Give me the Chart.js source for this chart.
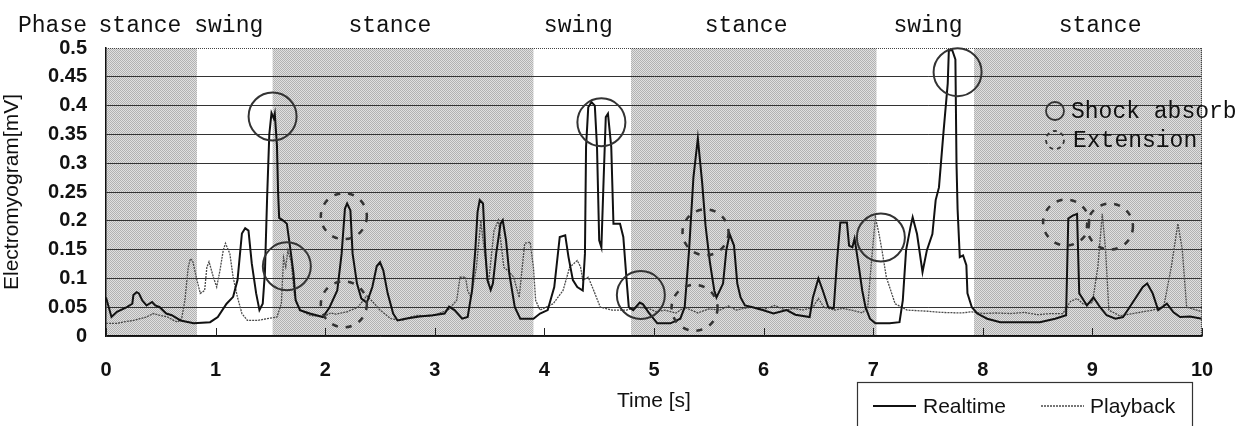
<!DOCTYPE html>
<html>
<head>
<meta charset="utf-8">
<script src="https://cdn.jsdelivr.net/npm/chart.js@4/dist/chart.umd.min.js"></script>
<style>
  html, body { margin: 0; padding: 0; background: #fff; }
  #wrap { width: 1259px; height: 426px; }
</style>
</head>
<body>
<div id="wrap"><canvas id="emgChart" width="1259" height="426"></canvas></div>
<script>
// time [s] and electromyogram [mV]
const realT = [0.00, 0.05, 0.10, 0.19, 0.24, 0.25, 0.28, 0.30, 0.33, 0.37, 0.42, 0.45, 0.49, 0.55, 0.60, 0.68, 0.80, 0.95,
  1.02, 1.10, 1.16, 1.20, 1.24, 1.27, 1.30, 1.33, 1.37, 1.40, 1.43, 1.45, 1.47, 1.49, 1.51, 1.53, 1.54, 1.56, 1.57, 1.58,
  1.62, 1.65, 1.68, 1.71, 1.73, 1.77, 1.86, 1.98, 2.04, 2.11, 2.15, 2.18, 2.20, 2.23, 2.25, 2.29, 2.33, 2.38, 2.43, 2.47,
  2.50, 2.53, 2.57, 2.62, 2.66, 2.73, 2.86, 2.98, 3.09, 3.13, 3.18, 3.25, 3.30, 3.34, 3.37, 3.39, 3.41, 3.44, 3.46, 3.48,
  3.51, 3.53, 3.56, 3.60, 3.62, 3.65, 3.68, 3.73, 3.78, 3.90, 3.96, 4.03, 4.09, 4.14, 4.19, 4.22, 4.26, 4.30, 4.35, 4.37,
  4.38, 4.40, 4.43, 4.46, 4.48, 4.50, 4.52, 4.54, 4.56, 4.58, 4.61, 4.63, 4.69, 4.72, 4.75, 4.77, 4.81, 4.87, 4.90, 4.95,
  5.03, 5.15, 5.24, 5.28, 5.32, 5.36, 5.40, 5.44, 5.47, 5.51, 5.55, 5.57, 5.63, 5.66, 5.69, 5.73, 5.76, 5.79, 5.83, 5.90,
  5.99, 6.09, 6.21, 6.29, 6.42, 6.45, 6.50, 6.54, 6.59, 6.64, 6.67, 6.70, 6.76, 6.78, 6.81, 6.83, 6.84, 6.87, 6.90, 6.93,
  6.97, 7.02, 7.15, 7.24, 7.27, 7.30, 7.34, 7.36, 7.40, 7.45, 7.49, 7.54, 7.57, 7.60, 7.64, 7.68, 7.69, 7.72, 7.75, 7.76,
  7.77, 7.79, 7.82, 7.85, 7.86, 7.90, 7.95, 8.04, 8.16, 8.52, 8.66, 8.76, 8.78, 8.82, 8.86, 8.88, 8.91, 8.95, 9.01, 9.07,
  9.13, 9.21, 9.28, 9.36, 9.46, 9.50, 9.55, 9.60, 9.68, 9.74, 9.80, 9.89, 10.00];
const realV = [0.067, 0.033, 0.042, 0.050, 0.056, 0.071, 0.076, 0.074, 0.062, 0.053, 0.059, 0.053, 0.050, 0.039, 0.036, 0.027, 0.022, 0.024,
  0.033, 0.056, 0.068, 0.097, 0.178, 0.187, 0.183, 0.126, 0.074, 0.045, 0.056, 0.110, 0.240, 0.350, 0.387, 0.378, 0.386, 0.330, 0.250, 0.205,
  0.200, 0.195, 0.154, 0.110, 0.062, 0.045, 0.039, 0.033, 0.050, 0.079, 0.143, 0.221, 0.230, 0.218, 0.143, 0.091, 0.065, 0.058, 0.085, 0.121,
  0.128, 0.114, 0.074, 0.039, 0.027, 0.030, 0.034, 0.036, 0.039, 0.051, 0.045, 0.030, 0.033, 0.079, 0.150, 0.215, 0.236, 0.230, 0.150, 0.097,
  0.080, 0.091, 0.143, 0.195, 0.201, 0.166, 0.108, 0.050, 0.030, 0.030, 0.039, 0.045, 0.085, 0.172, 0.175, 0.137, 0.097, 0.085, 0.079, 0.143,
  0.328, 0.397, 0.406, 0.400, 0.328, 0.166, 0.154, 0.270, 0.380, 0.386, 0.328, 0.195, 0.195, 0.172, 0.097, 0.050, 0.045, 0.058, 0.055, 0.041,
  0.022, 0.022, 0.030, 0.050, 0.149, 0.276, 0.343, 0.265, 0.192, 0.128, 0.079, 0.067, 0.091, 0.149, 0.177, 0.157, 0.091, 0.067, 0.053, 0.050,
  0.045, 0.039, 0.045, 0.037, 0.033, 0.067, 0.100, 0.079, 0.050, 0.048, 0.131, 0.197, 0.197, 0.157, 0.154, 0.169, 0.157, 0.119, 0.079, 0.050,
  0.030, 0.022, 0.022, 0.024, 0.062, 0.149, 0.189, 0.206, 0.177, 0.111, 0.149, 0.177, 0.236, 0.258, 0.351, 0.438, 0.495, 0.497, 0.480, 0.300,
  0.220, 0.137, 0.140, 0.123, 0.074, 0.050, 0.039, 0.030, 0.024, 0.024, 0.030, 0.036, 0.204, 0.209, 0.212, 0.074, 0.065, 0.053, 0.067, 0.050,
  0.036, 0.030, 0.033, 0.056, 0.085, 0.091, 0.074, 0.045, 0.056, 0.041, 0.033, 0.034, 0.030];

const playT = [0.00, 0.10, 0.18, 0.25, 0.31, 0.37, 0.43, 0.49, 0.56, 0.65, 0.69, 0.72, 0.75, 0.77, 0.79, 0.83, 0.86, 0.90,
  0.92, 0.94, 0.98, 1.01, 1.04, 1.07, 1.09, 1.13, 1.16, 1.20, 1.24, 1.29, 1.38, 1.47, 1.56, 1.60, 1.62, 1.64, 1.66, 1.69,
  1.72, 1.77, 1.86, 1.98, 2.05, 2.10, 2.20, 2.30, 2.38, 2.43, 2.50, 2.60, 2.70, 2.78, 2.85, 2.93, 3.00, 3.06, 3.12, 3.20,
  3.23, 3.28, 3.30, 3.33, 3.38, 3.42, 3.45, 3.49, 3.54, 3.58, 3.63, 3.68, 3.72, 3.77, 3.82, 3.87, 3.90, 3.92, 3.96, 4.08,
  4.17, 4.23, 4.30, 4.33, 4.35, 4.40, 4.45, 4.51, 4.62, 4.75, 4.85, 4.95, 5.02, 5.10, 5.20, 5.28, 5.40, 5.50, 5.60, 5.68,
  5.75, 5.82, 5.90, 6.00, 6.10, 6.20, 6.28, 6.35, 6.45, 6.50, 6.55, 6.65, 6.72, 6.80, 6.90, 6.95, 6.98, 7.02, 7.05, 7.08,
  7.12, 7.20, 7.31, 7.40, 7.50, 7.62, 7.80, 7.90, 8.00, 8.12, 8.25, 8.38, 8.50, 8.62, 8.73, 8.80, 8.86, 8.92, 9.00, 9.05,
  9.09, 9.12, 9.15, 9.25, 9.40, 9.55, 9.65, 9.72, 9.78, 9.82, 9.86, 9.95, 10.00];
const playV = [0.022, 0.022, 0.025, 0.027, 0.030, 0.033, 0.039, 0.036, 0.033, 0.024, 0.030, 0.062, 0.119, 0.134, 0.131, 0.097, 0.074, 0.079,
  0.119, 0.129, 0.102, 0.085, 0.114, 0.149, 0.161, 0.143, 0.102, 0.067, 0.039, 0.027, 0.027, 0.030, 0.033, 0.056, 0.136, 0.120, 0.149, 0.128,
  0.070, 0.045, 0.036, 0.033, 0.040, 0.038, 0.042, 0.050, 0.070, 0.060, 0.045, 0.030, 0.027, 0.033, 0.036, 0.034, 0.036, 0.041, 0.045, 0.062,
  0.102, 0.102, 0.079, 0.067, 0.120, 0.200, 0.150, 0.091, 0.183, 0.201, 0.119, 0.111, 0.102, 0.067, 0.161, 0.163, 0.119, 0.062, 0.045, 0.056,
  0.079, 0.119, 0.131, 0.120, 0.097, 0.102, 0.079, 0.050, 0.045, 0.045, 0.050, 0.048, 0.042, 0.045, 0.040, 0.050, 0.040, 0.047, 0.045, 0.052,
  0.045, 0.048, 0.050, 0.046, 0.053, 0.045, 0.048, 0.045, 0.050, 0.065, 0.050, 0.045, 0.048, 0.045, 0.040, 0.050, 0.120, 0.206, 0.180, 0.149,
  0.102, 0.056, 0.045, 0.044, 0.043, 0.041, 0.040, 0.042, 0.039, 0.040, 0.039, 0.041, 0.037, 0.039, 0.039, 0.060, 0.065, 0.055, 0.058, 0.120,
  0.212, 0.150, 0.045, 0.035, 0.040, 0.045, 0.050, 0.120, 0.195, 0.150, 0.050, 0.045, 0.042];

// gait phases (start/end in s) and where each phase name sits
const phaseNames = ['stance', 'swing', 'stance', 'swing', 'stance', 'swing', 'stance'];
const phaseStart = [0, 0.83, 1.52, 3.90, 4.79, 7.03, 7.92];
const phaseEnd = [0.83, 1.52, 3.90, 4.79, 7.03, 7.92, 10];
const phaseLabelT = [0.31, 1.12, 2.59, 4.31, 5.84, 7.50, 9.07];

// marked events (centre time, centre value)
const shockT = [1.52, 1.65, 4.52, 4.88, 7.07, 7.77];
const shockV = [0.381, 0.121, 0.371, 0.071, 0.171, 0.458];
const extT = [2.17, 2.17, 5.47, 5.37, 8.76, 9.16];
const extV = [0.208, 0.055, 0.180, 0.049, 0.197, 0.190];

const xTicks = [0, 1, 2, 3, 4, 5, 6, 7, 8, 9, 10];
const yTicks = [0, 0.05, 0.1, 0.15, 0.2, 0.25, 0.3, 0.35, 0.4, 0.45, 0.5];

const sans = '"Liberation Sans", Arial, sans-serif';
const mono = '"Liberation Mono", "Courier New", monospace';

const canvas = document.getElementById('emgChart');
const ctx = canvas.getContext('2d');

function makeShade() {
    const c = document.createElement('canvas');
    c.width = 2; c.height = 2;
    const g = c.getContext('2d');
    g.fillStyle = '#e0e0e0';
    g.fillRect(0, 0, 2, 2);
    g.fillStyle = '#b2b2b2';
    g.fillRect(0, 0, 1, 1);
    g.fillRect(1, 1, 1, 1);
    return ctx.createPattern(c, 'repeat');
}

const phasePlugin = {
    id: 'phases',
    beforeDraw(chart) {
        const { ctx, chartArea: a, scales: { x } } = chart;
        ctx.save();
        ctx.fillStyle = makeShade();
        phaseNames.forEach((p, i) => {
            if (p !== 'stance') return;
            const x0 = x.getPixelForValue(phaseStart[i]);
            const x1 = x.getPixelForValue(phaseEnd[i]);
            ctx.fillRect(x0, a.top, x1 - x0, a.bottom - a.top);
        });
        ctx.restore();
    },
    afterDraw(chart) {
        const { ctx, chartArea: a, scales: { x, y } } = chart;
        ctx.save();

        // dotted top and right frame
        ctx.strokeStyle = '#444';
        ctx.lineWidth = 1;
        ctx.setLineDash([1, 1]);
        ctx.beginPath();
        ctx.moveTo(a.left, a.top + 0.5);
        ctx.lineTo(a.right, a.top + 0.5);
        ctx.moveTo(a.right - 0.5, a.top);
        ctx.lineTo(a.right - 0.5, a.bottom);
        ctx.stroke();
        ctx.setLineDash([]);

        // inward tick marks
        ctx.strokeStyle = '#222';
        ctx.beginPath();
        xTicks.forEach(t => {
            const px = Math.round(x.getPixelForValue(t)) + 0.5;
            ctx.moveTo(px, a.bottom);
            ctx.lineTo(px, a.bottom - 8);
        });
        ctx.stroke();

        // phase labels
        ctx.fillStyle = '#111';
        ctx.font = '23px ' + mono;
        ctx.textBaseline = 'middle';
        ctx.textAlign = 'left';
        ctx.fillText('Phase', 18, 26);
        ctx.textAlign = 'center';
        phaseNames.forEach((p, i) => {
            ctx.fillText(p, x.getPixelForValue(phaseLabelT[i]), 26);
        });

        // event circles
        ctx.strokeStyle = '#333';
        ctx.lineWidth = 2;
        shockT.forEach((t, i) => {
            ctx.beginPath();
            ctx.arc(x.getPixelForValue(t), y.getPixelForValue(shockV[i]), 24, 0, Math.PI * 2);
            ctx.stroke();
        });
        ctx.lineWidth = 2.5;
        ctx.setLineDash([6, 8]);
        extT.forEach((t, i) => {
            ctx.beginPath();
            ctx.arc(x.getPixelForValue(t), y.getPixelForValue(extV[i]), 23, 0, Math.PI * 2);
            ctx.stroke();
        });

        // key for the circles
        ctx.lineWidth = 1.8;
        ctx.setLineDash([4, 4]);
        ctx.beginPath();
        ctx.arc(1055, 140, 9, 0, Math.PI * 2);
        ctx.stroke();
        ctx.setLineDash([]);
        ctx.beginPath();
        ctx.arc(1055, 111, 9, 0, Math.PI * 2);
        ctx.stroke();
        ctx.fillStyle = '#111';
        ctx.font = '23px ' + mono;
        ctx.textAlign = 'left';
        ctx.fillText('Shock absorb', 1071, 112);
        ctx.fillText('Extension', 1073, 141);

        // series legend box
        ctx.strokeStyle = '#333';
        ctx.lineWidth = 1.2;
        ctx.strokeRect(857.5, 382.5, 335, 60);
        const ds = chart.data.datasets;
        const items = [[873, 923], [1041, 1090]];
        ds.forEach((d, i) => {
            const [lx, tx] = items[i];
            ctx.strokeStyle = d.borderColor;
            ctx.lineWidth = d.borderWidth;
            ctx.setLineDash(d.borderDash || []);
            ctx.beginPath();
            ctx.moveTo(lx, 406);
            ctx.lineTo(lx + 43, 406);
            ctx.stroke();
            ctx.setLineDash([]);
            ctx.fillStyle = '#111';
            ctx.font = '21px ' + sans;
            ctx.fillText(d.label, tx, 407);
        });
        ctx.restore();
    }
};

new Chart(ctx, {
    type: 'line',
    data: {
        datasets: [{
            label: 'Realtime',
            data: realT.map((t, i) => ({ x: t, y: realV[i] })),
            borderColor: '#111',
            borderWidth: 2,
            pointRadius: 0,
            tension: 0
        }, {
            label: 'Playback',
            data: playT.map((t, i) => ({ x: t, y: playV[i] })),
            borderColor: '#4a4a4a',
            borderWidth: 1.3,
            borderDash: [2, 1],
            pointRadius: 0,
            tension: 0
        }]
    },
    options: {
        responsive: false,
        animation: false,
        devicePixelRatio: 1,
        layout: { padding: { top: 48, right: 57, bottom: 0, left: 0 } },
        plugins: { legend: { display: false }, tooltip: { enabled: false } },
        scales: {
            x: {
                type: 'linear',
                min: 0,
                max: 10,
                afterFit: s => { s.height = 90; },
                afterBuildTicks: s => { s.ticks = xTicks.map(v => ({ value: v })); },
                ticks: { color: '#111', font: { family: sans, size: 20, weight: 'bold' }, padding: 22 },
                grid: { drawOnChartArea: false, drawTicks: false },
                border: { color: '#111', width: 1.5 },
                title: { display: true, text: 'Time [s]', color: '#111', font: { family: sans, size: 21 }, padding: { top: 0, bottom: 12 } }
            },
            y: {
                min: 0,
                max: 0.5,
                afterFit: s => { s.width = 106; },
                afterBuildTicks: s => { s.ticks = yTicks.map(v => ({ value: v })); },
                ticks: { color: '#111', font: { family: sans, size: 20, weight: 'bold' }, padding: 19, callback: v => String(+v.toFixed(2)) },
                grid: {
                    drawTicks: false,
                    color: c => (c.tick && Math.abs(c.tick.value - 0.5) < 1e-6) ? 'rgba(0,0,0,0)' : '#333',
                    lineWidth: 1
                },
                border: { color: '#111', width: 1.5 },
                title: { display: true, text: 'Electromyogram[mV]', color: '#111', font: { family: sans, size: 21 }, padding: { top: 0, bottom: 0 } }
            }
        }
    },
    plugins: [phasePlugin]
});
</script>
</body>
</html>
